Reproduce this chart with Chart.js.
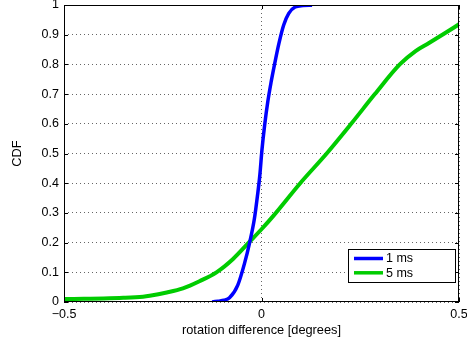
<!DOCTYPE html>
<html>
<head>
<meta charset="utf-8">
<script src="https://cdn.jsdelivr.net/npm/chart.js@4/dist/chart.umd.min.js"></script>
<style>
  html, body { margin: 0; padding: 0; background: #fff; }
  #wrap { width: 467px; height: 338px; }
</style>
</head>
<body>
<div id="wrap"><canvas id="c" width="467" height="338"></canvas></div>
<script>
const seriesLabels = ['1 ms', '5 ms'];
const seriesColors = ['#0000ff', '#00cc00'];

const blueX = [-0.125, -0.11, -0.095, -0.081, -0.06, -0.043, -0.03, -0.018, -0.01, -0.004, 0.001, 0.008, 0.016, 0.024, 0.033, 0.044, 0.056, 0.069, 0.085, 0.105, 0.128];
const blueY = [0, 0.003, 0.006, 0.014, 0.057, 0.13, 0.2, 0.28, 0.36, 0.43, 0.51, 0.596, 0.675, 0.738, 0.8, 0.87, 0.932, 0.972, 0.993, 0.998, 0.999];

const greenX = [-0.5, -0.45, -0.4, -0.35, -0.3, -0.283, -0.24, -0.199, -0.157, -0.114, -0.072, -0.03, 0, 0.03, 0.098, 0.165, 0.227, 0.287, 0.35, 0.39, 0.424, 0.462, 0.5];
const greenY = [0.01, 0.011, 0.012, 0.014, 0.018, 0.021, 0.032, 0.046, 0.07, 0.1, 0.145, 0.203, 0.245, 0.29, 0.4, 0.5, 0.6, 0.7, 0.8, 0.845, 0.872, 0.903, 0.935];

const xTicks = [-0.5, 0, 0.5];
const yTicks = [0, 0.1, 0.2, 0.3, 0.4, 0.5, 0.6, 0.7, 0.8, 0.9, 1];

const FONT = 'Liberation Sans, Arial, Helvetica, sans-serif';

function pts(xs, ys) { return xs.map((x, i) => ({ x: x, y: ys[i] })); }

const frameAndLegend = {
  id: 'frameAndLegend',
  afterDatasetsDraw(chart) {
    const ctx = chart.ctx;
    const a = chart.chartArea;
    const xs = chart.scales.x, ys = chart.scales.y;
    ctx.save();
    ctx.strokeStyle = '#000';
    ctx.lineWidth = 1;
    ctx.strokeRect(Math.round(a.left) + 0.5, Math.round(a.top) + 0.5, Math.round(a.right - a.left) - 1, Math.round(a.bottom - a.top) - 1);
    const tl = 4;
    ctx.beginPath();
    yTicks.forEach(v => {
      const py = Math.round(ys.getPixelForValue(v)) + 0.5;
      ctx.moveTo(a.left, py); ctx.lineTo(a.left + tl, py);
      ctx.moveTo(a.right, py); ctx.lineTo(a.right - tl, py);
    });
    xTicks.forEach(v => {
      const px = Math.round(xs.getPixelForValue(v)) + 0.5;
      ctx.moveTo(px, a.bottom); ctx.lineTo(px, a.bottom - tl);
      ctx.moveTo(px, a.top); ctx.lineTo(px, a.top + tl);
    });
    ctx.stroke();
    const bx = 348.5, by = 249.5, bw = 107, bh = 33;
    ctx.fillStyle = '#fff';
    ctx.fillRect(bx, by, bw, bh);
    ctx.strokeStyle = '#000';
    ctx.lineWidth = 1;
    ctx.strokeRect(bx, by, bw, bh);
    ctx.font = '12.5px ' + FONT;
    ctx.textBaseline = 'middle';
    ctx.textAlign = 'left';
    chart.data.datasets.forEach((ds, i) => {
      const ly = 258.5 + i * 14.3;
      ctx.strokeStyle = ds.borderColor;
      ctx.lineWidth = 3.5;
      ctx.beginPath();
      ctx.moveTo(354, ly); ctx.lineTo(383, ly);
      ctx.stroke();
      ctx.fillStyle = '#000';
      ctx.fillText(ds.label, 386, ly + 0.5);
    });
    ctx.restore();
  }
};

new Chart(document.getElementById('c'), {
  type: 'scatter',
  data: {
    datasets: [
      { label: seriesLabels[0], data: pts(blueX, blueY), borderColor: seriesColors[0], backgroundColor: seriesColors[0], showLine: true, borderWidth: 3.5, pointRadius: 0, cubicInterpolationMode: 'monotone' },
      { label: seriesLabels[1], data: pts(greenX, greenY), borderColor: seriesColors[1], backgroundColor: seriesColors[1], showLine: true, borderWidth: 4, pointRadius: 0, cubicInterpolationMode: 'monotone' }
    ]
  },
  options: {
    responsive: false,
    animation: false,
    devicePixelRatio: 1,
    layout: { padding: { left: 0, top: 5, right: 8, bottom: 0 } },
    plugins: { legend: { display: false }, tooltip: { enabled: false } },
    scales: {
      x: {
        type: 'linear', min: -0.5, max: 0.5,
        afterFit(s) { s.height = 36; s.paddingLeft = 0; s.paddingRight = 0; },
        afterBuildTicks(s) { s.ticks = xTicks.map(v => ({ value: v })); },
        border: { display: false, dash: [1, 3] },
        grid: { drawTicks: false, color: '#666', lineWidth: 1 },
        ticks: { color: '#000', padding: 5, maxRotation: 0, font: { family: FONT, size: 12.5 },
          callback: v => (v < 0 ? '\u2212' + Math.abs(v) : String(v)) },
        title: { display: true, text: 'rotation difference [degrees]', color: '#000', font: { family: FONT, size: 12.8 }, padding: { top: 3, bottom: 0 } }
      },
      y: {
        type: 'linear', min: 0, max: 1,
        afterFit(s) { s.width = 64; s.paddingTop = 0; s.paddingBottom = 0; },
        afterBuildTicks(s) { s.ticks = yTicks.map(v => ({ value: v })); },
        border: { display: false, dash: [1, 3] },
        grid: { drawTicks: false, color: '#666', lineWidth: 1 },
        ticks: { color: '#000', padding: 5, font: { family: FONT, size: 12.5 },
          callback: v => String(Math.round(v * 10) / 10) },
        title: { display: true, text: 'CDF', color: '#000', font: { family: FONT, size: 12.8 }, padding: { top: 10, bottom: 0 } }
      }
    }
  },
  plugins: [frameAndLegend]
});
</script>
</body>
</html>
